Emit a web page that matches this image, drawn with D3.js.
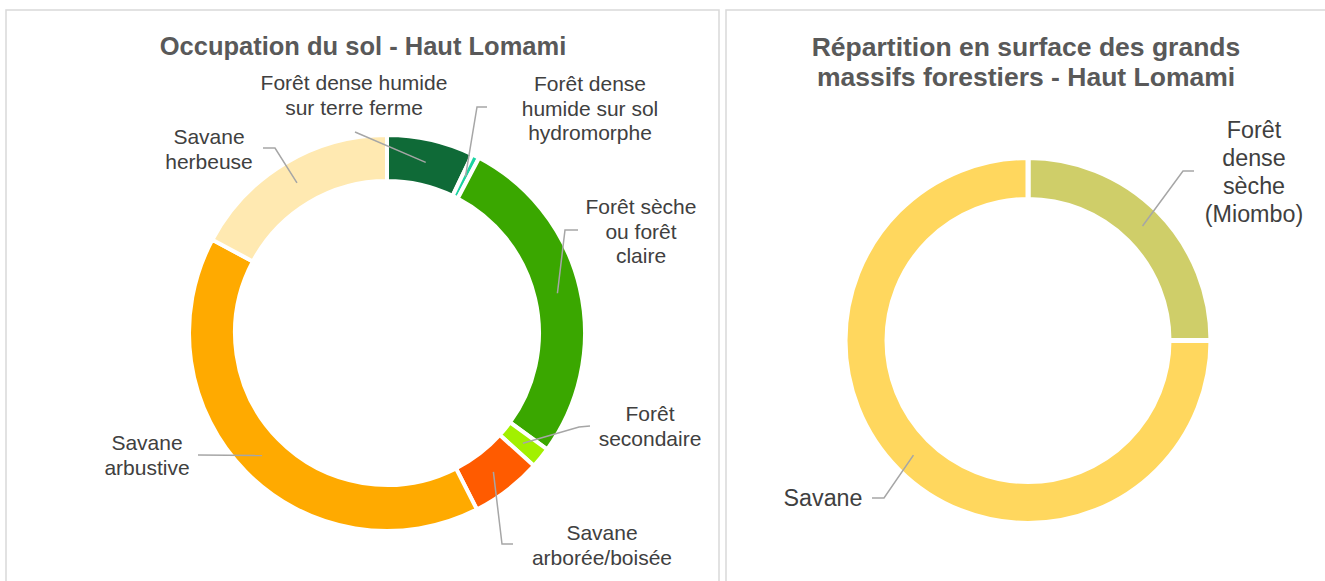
<!DOCTYPE html>
<html>
<head>
<meta charset="utf-8">
<script src="https://cdn.jsdelivr.net/npm/d3@7"></script>
<style>
  html, body { margin: 0; padding: 0; background: #fff; }
  svg { display: block; font-family: "Liberation Sans", Arial, sans-serif; }
</style>
</head>
<body>
<div id="chart"></div>
<script>
// Occupation du sol (en % de la surface)
const occupCategories = [
  "Forêt dense humide sur terre ferme",
  "Forêt dense humide sur sol hydromorphe",
  "Forêt sèche ou forêt claire",
  "Forêt secondaire",
  "Savane arborée/boisée",
  "Savane arbustive",
  "Savane herbeuse"
];
const occupValues = [7.1, 0.6, 27.3, 1.7, 5.8, 40.3, 17.2];
const occupColors = ["#0F6A37", "#1CD3A2", "#3AA700", "#A2F000", "#FF5B00", "#FFAA00", "#FFE9B1"];

// Grands massifs forestiers
const massifCategories = ["Forêt dense sèche (Miombo)", "Savane"];
const massifValues = [25, 75];
const massifColors = ["#CFCE69", "#FFD75E"];

// label text lines and placement (first line centre, leader stub)
const occupLabels = [
  { lines: ["Forêt dense humide", "sur terre ferme"], x: 354, y: 83, stub: [[355, 132]] },
  { lines: ["Forêt dense", "humide sur sol", "hydromorphe"], x: 590, y: 84, stub: [[487, 107], [477, 107]] },
  { lines: ["Forêt sèche", "ou forêt", "claire"], x: 641, y: 207, stub: [[578, 230], [565, 230]] },
  { lines: ["Forêt", "secondaire"], x: 650, y: 414, stub: [[590, 426], [579, 427]] },
  { lines: ["Savane", "arborée/boisée"], x: 602, y: 533, stub: [[513, 544], [502, 544]] },
  { lines: ["Savane", "arbustive"], x: 147, y: 443, stub: [[198, 455]] },
  { lines: ["Savane", "herbeuse"], x: 209, y: 137, stub: [[263, 148], [275, 148]] }
];
const massifLabels = [
  { lines: ["Forêt", "dense", "sèche", "(Miombo)"], x: 1254, y: 130, stub: [[1194, 171], [1183, 171]] },
  { lines: ["Savane"], x: 823, y: 498, stub: [[872, 498], [884, 498]] }
];

const width = 1325;
const height = 581;

const svg = d3.create("svg")
  .attr("width", width)
  .attr("height", height)
  .attr("viewBox", [0, 0, width, height]);

// panel frames
svg.append("rect")
  .attr("x", 6).attr("y", 10).attr("width", 713).attr("height", 600)
  .attr("fill", "#fff").attr("stroke", "#D9D9D9").attr("stroke-width", 1.5);
svg.append("rect")
  .attr("x", 726).attr("y", 10).attr("width", 620).attr("height", 600)
  .attr("fill", "#fff").attr("stroke", "#D9D9D9").attr("stroke-width", 1.5);

// titles
svg.append("text")
  .attr("x", 363).attr("y", 55)
  .attr("text-anchor", "middle")
  .attr("font-size", 25.5).attr("font-weight", "bold").attr("fill", "#595959")
  .text("Occupation du sol - Haut Lomami");

const title2 = svg.append("text")
  .attr("text-anchor", "middle")
  .attr("font-size", 26.5).attr("font-weight", "bold").attr("fill", "#595959");
title2.append("tspan").attr("x", 1026).attr("y", 56).text("Répartition en surface des grands");
title2.append("tspan").attr("x", 1026).attr("y", 86).text("massifs forestiers - Haut Lomami");

function donut(values, colors, labels, cx, cy, rOuter, rInner, gap, fontSize, lineH) {
  const pie = d3.pie().sort(null).value(d => d);
  const arcs = pie(values);
  const arc = d3.arc().innerRadius(rInner).outerRadius(rOuter);

  const g = svg.append("g").attr("transform", `translate(${cx},${cy})`);

  g.selectAll("path")
    .data(arcs)
    .join("path")
    .attr("d", arc)
    .attr("fill", (d, i) => colors[i])
    .attr("stroke", "#fff")
    .attr("stroke-width", gap)
    .attr("stroke-linejoin", "miter");

  // leader lines: stub near the label, then to the slice centroid
  const line = d3.line();
  svg.append("g")
    .selectAll("path")
    .data(arcs)
    .join("path")
    .attr("d", (d, i) => {
      const c = arc.centroid(d);
      return line(labels[i].stub.concat([[cx + c[0], cy + c[1]]]));
    })
    .attr("fill", "none")
    .attr("stroke", "#A6A6A6")
    .attr("stroke-width", 1.5);

  // labels
  const t = svg.append("g")
    .attr("font-size", fontSize)
    .attr("fill", "#404040")
    .attr("text-anchor", "middle")
    .selectAll("text")
    .data(labels)
    .join("text");

  t.selectAll("tspan")
    .data(d => d.lines.map((s, k) => ({ s, x: d.x, y: d.y + k * lineH })))
    .join("tspan")
    .attr("x", d => d.x)
    .attr("y", d => d.y)
    .attr("dy", "0.35em")
    .text(d => d.s);
}

donut(occupValues, occupColors, occupLabels, 387, 333, 198, 152, 4, 21, 24.5);
donut(massifValues, massifColors, massifLabels, 1028, 340.5, 183, 141, 5, 23.3, 28);

document.getElementById("chart").appendChild(svg.node());
</script>
</body>
</html>
